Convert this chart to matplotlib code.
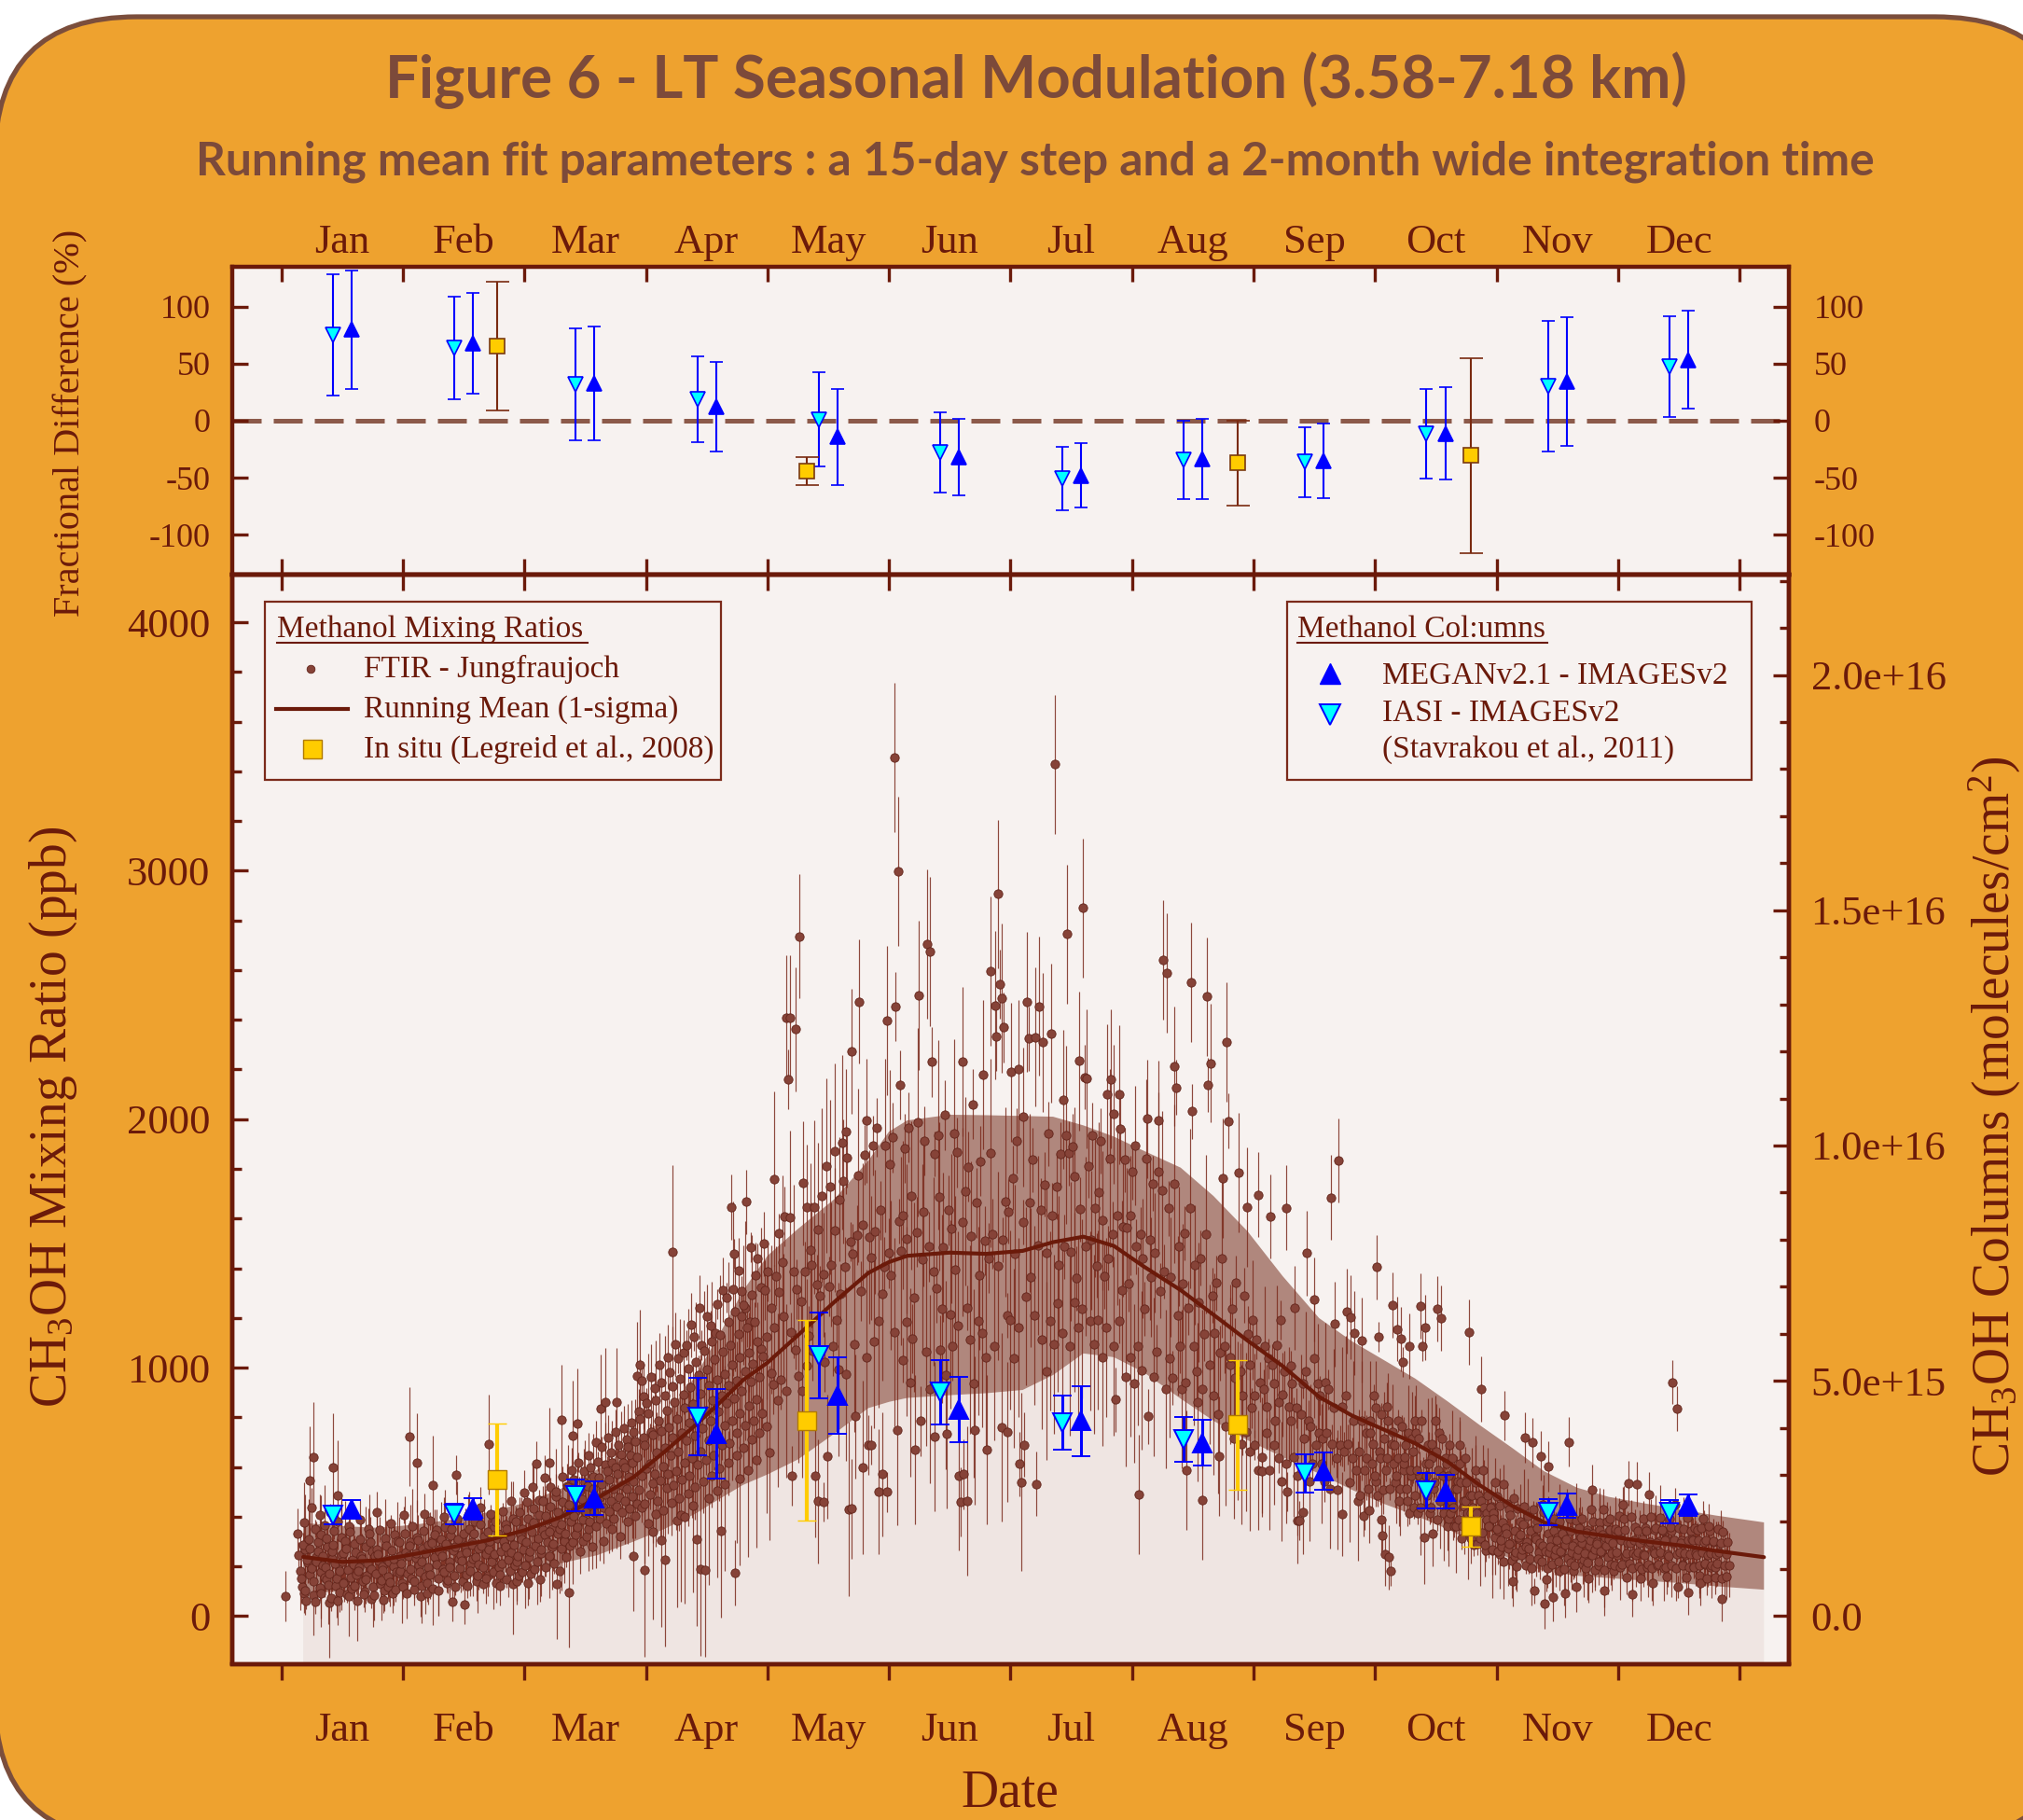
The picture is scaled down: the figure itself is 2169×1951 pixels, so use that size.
import numpy as np
import matplotlib
matplotlib.use("Agg")
import matplotlib.pyplot as plt
from matplotlib.patches import FancyBboxPatch, Rectangle
from matplotlib.lines import Line2D
from matplotlib.transforms import IdentityTransform
from matplotlib.ticker import MultipleLocator

plt.rcParams['font.family'] = ['Liberation Serif', 'DejaVu Serif']
plt.rcParams['mathtext.fontset'] = 'custom'
plt.rcParams['mathtext.rm'] = 'Liberation Serif'
plt.rcParams['mathtext.it'] = 'Liberation Serif:italic'
plt.rcParams['mathtext.bf'] = 'Liberation Serif:bold'
plt.rcParams['axes.unicode_minus'] = False

# ============================ DATA ============================
months = ['Jan', 'Feb', 'Mar', 'Apr', 'May', 'Jun',
          'Jul', 'Aug', 'Sep', 'Oct', 'Nov', 'Dec']

# ---- top panel: fractional difference (%) of monthly means ----
frac_iasi = [75.0, 63.8, 31.8, 18.7, 1.0, -27.8, -50.7, -34.4, -36.2, -11.4, 30.2, 47.4]
frac_iasi_err = [53.0, 44.9, 48.9, 37.6, 41.0, 35.1, 28.0, 34.4, 30.7, 39.2, 57.2, 44.0]
frac_megan = [79.7, 67.8, 32.5, 12.2, -14.4, -31.8, -48.1, -33.5, -35.3, -11.4, 34.4, 53.4]
frac_megan_err = [51.9, 44.2, 49.6, 39.5, 42.0, 33.6, 28.0, 35.3, 32.4, 40.3, 56.3, 42.8]

insitu_doy = [55, 132.5, 240.3, 298.6]
frac_insitu = [65.5, -44.2, -37.1, -30.6]
frac_insitu_err = [56.4, 12.2, 37.1, 85.4]

# ---- bottom panel: in situ mixing ratios (ppb) ----
insitu_ppb = [549, 788, 770, 361]
insitu_ppb_err = [226, 403, 261, 81]

# ---- bottom panel: model columns (1e15 molecules/cm2) ----
col_iasi = [2.146, 2.167, 2.568, 4.239, 5.537, 4.756, 4.108, 3.760, 3.037, 2.663, 2.209, 2.215]
col_iasi_err = [0.200, 0.221, 0.332, 0.817, 0.920, 0.683, 0.580, 0.477, 0.409, 0.380, 0.272, 0.245]
col_megan = [2.273, 2.283, 2.507, 3.878, 4.688, 4.382, 4.145, 3.681, 3.082, 2.639, 2.349, 2.357]
col_megan_err = [0.185, 0.227, 0.361, 0.957, 0.817, 0.691, 0.749, 0.490, 0.403, 0.356, 0.261, 0.221]

# ---- running mean and 1-sigma envelope (month position, ppb) ----
band_month = [0.18, 0.5, 0.8, 1.1, 1.4, 1.7, 2.0, 2.3, 2.6, 2.9, 3.15, 3.4, 3.6, 3.8, 4.0,
              4.25, 4.55, 4.83, 5.0, 5.15, 5.5, 5.8, 6.1, 6.35, 6.6, 6.85, 7.1, 7.4, 7.67,
              7.95, 8.24, 8.54, 8.81, 9.07, 9.33, 9.6, 9.86, 10.13, 10.39, 10.66, 10.92,
              11.2, 11.5, 11.8, 12.2]
run_mean = [238, 218, 224, 250, 277, 305, 345, 398, 475, 560, 660, 765, 855, 950, 1020,
            1130, 1264, 1381, 1425, 1450, 1463, 1458, 1470, 1505, 1527, 1490, 1406, 1312, 1213,
            1109, 1006, 882, 807, 751, 695, 620, 527, 443, 377, 340, 321,
            302, 285, 263, 237]
run_upper = [375, 362, 355, 368, 388, 418, 455, 512, 590, 690, 800, 960, 1130, 1310, 1450,
             1558, 1678, 1833, 1950, 1995, 2018, 2016, 2013, 2010, 1975, 1930, 1872, 1805, 1691,
             1549, 1368, 1199, 1106, 1031, 956, 863, 769, 676, 583, 517, 480,
             455, 430, 405, 377]
run_lower = [90, 100, 113, 128, 145, 165, 188, 212, 245, 300, 350, 410, 470, 528, 570,
             630, 734, 837, 862, 878, 889, 897, 910, 970, 1057, 1042, 980, 875, 786,
             708, 640, 573, 508, 452, 405, 349, 284, 228, 181, 162, 153,
             143, 133, 120, 106]

# ---- FTIR Jungfraujoch individual mixing ratios: day-of-year -> ppb values ----
ftir_jan = {
    2: [80],
    6: [332, 247, 183, 118, 92, 268], 7: [152, 287, 378, 63, 214, 545],
    8: [104, 228, 311, 168, 436, 640], 9: [273, 192, 84, 352, 238],
    10: [139, 58, 221, 297, 408, 176], 11: [262, 113, 327, 203, 157],
    12: [91, 243, 366, 148, 281, 53], 13: [198, 314, 127, 417, 232, 598],
    14: [171, 72, 259, 343, 121, 487], 15: [288, 213, 152, 379, 97, 244],
    16: [62, 182, 318, 253, 137], 17: [219, 133, 302, 88, 361],
    18: [271, 187, 79, 154, 228], 19: [338, 112, 209, 291, 168],
    20: [123, 258, 61, 197, 388], 21: [181, 309, 243, 141, 98],
    22: [232, 87, 279, 163, 352], 23: [149, 212, 331, 68, 262],
    24: [298, 188, 117, 241, 419], 25: [83, 172, 268, 223, 129],
    26: [251, 348, 143, 199, 102], 27: [187, 64, 312, 228, 158],
    28: [283, 119, 218, 372, 93], 29: [138, 263, 201, 328, 177],
    30: [229, 108, 301, 173, 243], 31: [298, 182, 133, 407],
}
ftir_feb = {
    32: [212, 118, 332, 257, 171, 722], 33: [91, 243, 298, 152],
    34: [283, 188, 362, 108, 233, 617], 35: [142, 252, 318, 203, 79],
    36: [307, 178, 123, 272, 412], 37: [218, 342, 158, 92, 288],
    38: [253, 131, 197, 383, 302, 527], 39: [168, 293, 112, 238, 348],
    40: [328, 208, 153, 268], 41: [103, 262, 308, 191, 398],
    42: [241, 179, 358, 132, 281], 43: [292, 143, 221, 323, 58],
    44: [198, 352, 263, 118, 569], 45: [162, 278, 392, 229, 311],
    46: [309, 192, 247, 139, 48], 47: [223, 331, 282, 168, 408],
    48: [258, 122, 349, 212, 297], 49: [181, 288, 232, 381, 142],
    50: [333, 238, 163, 272, 438], 51: [208, 368, 292, 128],
    52: [282, 197, 322, 248, 161, 691], 53: [152, 338, 268, 412, 231],
    54: [302, 221, 178, 358, 133], 55: [248, 382, 312, 198, 122],
    56: [332, 168, 262, 421, 288], 57: [211, 302, 371, 148, 252],
    58: [278, 352, 228, 181, 462, 128], 59: [322, 258, 392, 203, 142],
}
ftir_mar = {
    60: [288, 382, 218, 162, 331], 61: [242, 418, 308, 178, 498],
    62: [352, 268, 203, 458, 132], 63: [298, 392, 238, 172, 521],
    64: [262, 338, 432, 188, 612], 65: [378, 282, 218, 468, 148],
    66: [312, 408, 252, 348, 558], 67: [268, 462, 328, 198, 388, 617],
    68: [402, 298, 242, 518, 352], 69: [338, 442, 278, 212, 482, 128],
    70: [292, 378, 502, 332, 182, 790], 71: [418, 352, 272, 562, 308],
    72: [368, 458, 302, 238, 522, 94], 73: [332, 412, 518, 282, 588, 727],
    74: [448, 382, 298, 548, 422, 775], 75: [402, 328, 478, 618, 262],
    76: [358, 502, 432, 302, 582], 77: [472, 388, 538, 322, 648],
    78: [418, 522, 352, 598, 278], 79: [382, 468, 562, 442, 698],
    80: [512, 418, 362, 622, 478, 834], 81: [458, 558, 392, 682, 302, 860],
    82: [532, 438, 608, 372, 718], 83: [488, 582, 422, 658, 352],
    84: [548, 462, 618, 392, 742, 860], 85: [512, 598, 442, 688, 322],
    86: [572, 478, 652, 418, 758], 87: [528, 618, 462, 712, 382],
    88: [598, 512, 682, 432, 778, 240], 89: [562, 648, 482, 742, 402, 965],
    90: [618, 542, 702, 452, 822, 1013, 948],
}
ftir_apr = {
    91: [641, 507, 793, 436, 884, 185], 92: [563, 719, 451, 857, 372],
    93: [688, 596, 817, 489, 963, 338], 94: [614, 741, 533, 916, 411],
    95: [729, 571, 869, 463, 1011, 306], 96: [659, 788, 547, 942, 427, 227],
    97: [744, 603, 887, 514, 1043], 98: [677, 826, 571, 981, 456, 1464],
    99: [761, 648, 924, 527, 1093, 384], 100: [718, 861, 585, 1036, 474, 407],
    101: [793, 662, 957, 551, 1060, 399], 102: [736, 893, 619, 1089, 492],
    103: [837, 709, 997, 566, 1172, 446], 104: [779, 923, 636, 1126, 518, 311],
    105: [852, 727, 1024, 609, 1241, 190], 106: [808, 969, 661, 1092, 543, 185],
    107: [894, 757, 1067, 627, 1206, 476], 108: [826, 993, 708, 1171, 566],
    109: [927, 786, 1104, 646, 1140, 504], 110: [868, 1033, 727, 1256, 593, 343],
    111: [951, 824, 1131, 688, 1313, 531], 112: [887, 1063, 769, 1282, 616],
    113: [973, 858, 1183, 697, 1646, 1317], 114: [928, 1091, 786, 1460, 174, 646],
    115: [1013, 876, 1224, 737, 1391, 553, 1207], 116: [946, 1137, 817, 1309, 679, 1239],
    117: [1043, 906, 1253, 768, 1667, 587, 1186], 118: [987, 1162, 846, 1485, 711],
    119: [1061, 943, 1294, 787, 1373, 627], 120: [1017, 1184, 873, 1441, 738, 1077],
    121: [1104, 963, 1323, 816, 1498],
}
ftir_may = {
    122: [1047, 1311, 763], 123: [1124, 1387, 657, 976],
    124: [1241, 933, 1760], 125: [1163, 1368, 869, 1541],
    126: [1306, 951, 1423], 127: [1208, 1608, 907],
    128: [2409, 2162, 1605, 1143], 129: [2410, 566, 1386, 1071],
    130: [2363, 1314, 966], 131: [2736, 1268, 906],
    132: [1743, 1388, 1007], 133: [1647, 1127, 1473],
    134: [1413, 1067, 1646], 135: [566, 1334, 1557],
    136: [462, 1288, 1693, 459], 137: [1374, 1023, 1813],
    138: [643, 1327, 1727], 139: [1414, 1087, 1873],
    140: [1553, 1193, 993], 141: [1678, 1297, 1907],
    142: [1750, 1407, 973], 143: [1950, 1846, 431, 1507, 432],
    144: [2273, 1457, 1093], 145: [804, 1533, 1773],
    146: [2474, 1307, 599], 147: [1573, 1857, 1043],
    148: [1994, 690, 1527, 688], 149: [1443, 1893, 1107],
    150: [1547, 1967, 1187], 151: [501, 1633, 1297],
    152: [571, 1407, 1893, 500],
}
ftir_jun = {
    153: [2397, 1461, 1819], 154: [1371, 1926, 1143],
    155: [3455, 2454, 747, 1589], 156: [2997, 2138, 1469, 1031],
    157: [1614, 1883, 1186], 158: [1517, 1967, 941],
    159: [1693, 1117, 1283], 160: [669, 1546, 1988],
    161: [2498, 785, 1437], 162: [1627, 1913, 1063],
    163: [2705, 1487, 913], 164: [2674, 2231, 1387, 1861],
    165: [721, 1319, 1937], 166: [1689, 1071, 1236],
    167: [1486, 2017, 971], 168: [734, 1633, 1214],
    169: [1561, 1086, 1941], 170: [1393, 1866, 1169],
    171: [566, 459, 1587], 172: [2231, 571, 1709, 1239],
    173: [462, 1809, 1113], 174: [1529, 2061, 937],
    175: [747, 1663, 1187], 176: [1373, 1831, 1141],
    177: [2180, 1511, 1041], 178: [669, 1441, 1863],
    179: [2596, 1539, 1087], 180: [2459, 2335, 1409],
    181: [2906, 2544, 760, 1513], 182: [2487, 2369, 1667, 1211],
}
ftir_jul = {
    183: [741, 1629, 1193], 184: [2190, 1763, 1037],
    185: [1457, 1913, 1163], 186: [2200, 612, 540, 1587],
    187: [2009, 690, 1287], 188: [2472, 2325, 1663],
    189: [1363, 1837, 1211], 190: [2330, 532, 1493],
    191: [2454, 1633, 1113], 192: [2309, 1737, 987],
    193: [1463, 1941, 1187], 194: [2345, 1613, 1093],
    195: [3429, 1729, 1261], 196: [1413, 1859, 1141],
    197: [2079, 1487, 1937], 198: [2746, 1863, 1087],
    199: [1467, 1891, 1263], 200: [1769, 1359, 1163],
    201: [2234, 1637, 1237], 202: [2850, 2169, 1487],
    203: [2164, 1813, 1187], 204: [1513, 1937, 1093],
    205: [1643, 1411, 1191], 206: [1707, 1913, 1043],
    207: [1593, 1367, 1163], 208: [2102, 1441, 1843],
    209: [2161, 1537, 1087], 210: [2020, 871, 1613, 1187],
    211: [2100, 1962, 1313], 212: [1567, 1837, 963],
}
ftir_aug = {
    213: [1563, 1337, 1041], 214: [1611, 1787, 937],
    215: [1895, 1487, 1087], 216: [488, 1537, 989],
    217: [1441, 1237, 1841], 218: [2001, 804, 1513],
    219: [1363, 1741, 963], 220: [1463, 1063, 1789],
    221: [1996, 1309, 1713], 222: [2640, 1387, 913],
    223: [2588, 1641, 1037], 224: [1363, 959, 1741],
    225: [2213, 2128, 1209], 226: [1487, 1087, 913],
    227: [1337, 1541, 941], 228: [586, 1241, 1641],
    229: [2552, 2032, 1087], 230: [1413, 987, 861],
    231: [1263, 1441, 913], 232: [467, 1137, 1537],
    233: [2493, 2138, 1013], 234: [2226, 1291, 887],
    235: [1141, 1341, 813], 236: [643, 1059, 1441],
    237: [1761, 1087, 763], 238: [2312, 1993, 1013],
    239: [1041, 1237, 713], 240: [959, 1341, 787],
    241: [1786, 987, 691], 242: [887, 1291, 741],
    243: [1647, 1137, 663],
}
ftir_sep = {
    244: [1013, 837, 1191, 687], 245: [887, 1113, 587],
    246: [1696, 941, 641], 247: [584, 913, 1087, 737],
    248: [841, 1037, 587], 249: [1608, 1013, 687],
    250: [937, 787, 1091, 637], 251: [863, 1191, 541],
    252: [891, 987, 613], 253: [1644, 501, 841, 1009],
    254: [787, 937, 641], 255: [1240, 837, 563],
    256: [383, 385, 813, 937], 257: [420, 713, 987],
    258: [1461, 787, 541], 259: [763, 613, 1037],
    260: [1274, 687, 937], 261: [737, 887, 613],
    262: [713, 541, 941], 263: [737, 913, 513],
    264: [1685, 691, 837], 265: [1175, 637, 509],
    266: [1834, 687, 841], 267: [411, 663, 887],
    268: [1227, 691, 537], 269: [1203, 637, 787],
    270: [1140, 587, 463], 271: [663, 487, 787],
    272: [1110, 402, 587, 737], 273: [637, 513, 787],
}
ftir_oct = {
    274: [424, 737, 613, 887, 541], 275: [691, 563, 837, 487, 663],
    276: [1405, 1124, 637, 813, 509], 277: [387, 325, 713, 587, 841],
    278: [250, 637, 787, 513, 691], 279: [237, 181, 741, 613, 537],
    280: [1252, 687, 563, 787, 463], 281: [1156, 637, 513, 763, 587],
    282: [1115, 1022, 613, 687, 463], 283: [641, 513, 737, 413, 563],
    284: [1087, 587, 713, 437, 787], 285: [663, 487, 737, 413, 563],
    286: [587, 713, 437, 787, 541], 287: [1248, 1087, 318, 613, 487],
    288: [1162, 563, 687, 413, 637], 289: [613, 437, 691, 513, 787],
    290: [331, 537, 663, 387, 737], 291: [1237, 587, 463, 713, 487],
    292: [1199, 563, 413, 637, 363], 293: [487, 613, 391, 687, 463],
    294: [563, 413, 637, 363, 513], 295: [437, 587, 363, 541, 687],
    296: [513, 387, 613, 313, 463], 297: [537, 363, 441, 637, 413],
    298: [463, 537, 337, 487, 313], 299: [1143, 413, 487, 287, 587],
    300: [437, 363, 537, 291, 413], 301: [413, 487, 313, 463, 587],
    302: [914, 337, 437, 263, 413], 303: [288, 387, 487, 363, 441],
    304: [363, 437, 263, 413, 537],
}
ftir_nov = {
    305: [268, 392, 317, 481, 344, 250], 306: [351, 259, 446, 281, 529],
    307: [306, 378, 219, 356, 452], 308: [807, 333, 271, 428, 294],
    309: [289, 407, 224, 476, 241], 310: [140, 342, 257, 433, 309],
    311: [200, 318, 381, 246, 369], 312: [329, 268, 442, 206, 297],
    313: [719, 281, 404, 232, 348], 314: [272, 343, 193, 428, 317],
    315: [699, 101, 308, 379, 256], 316: [354, 229, 296, 218, 447],
    317: [644, 283, 418, 261, 194], 318: [50, 149, 331, 258, 307],
    319: [602, 279, 209, 393, 247], 320: [78, 342, 268, 316, 182],
    321: [304, 221, 379, 256, 338], 322: [259, 331, 191, 288, 431],
    323: [93, 309, 233, 392, 217], 324: [701, 344, 258, 183, 296],
    325: [283, 206, 383, 244, 356], 326: [116, 267, 329, 293, 209],
    327: [318, 391, 228, 192, 347], 328: [254, 336, 217, 284, 429],
    329: [153, 307, 246, 381, 184], 330: [508, 331, 268, 297, 206, 376],
    331: [292, 219, 348, 257, 431], 332: [261, 329, 184, 318, 379],
    333: [101, 284, 238, 346, 207], 334: [309, 393, 254, 181, 338],
}
ftir_dec = {
    335: [296, 204, 352, 247, 404], 336: [257, 343, 196, 309, 448],
    337: [304, 208, 392, 243, 157], 338: [347, 252, 293, 211, 398],
    339: [536, 296, 193, 254, 358], 340: [88, 307, 246, 342, 202],
    341: [530, 257, 296, 188, 393], 342: [153, 308, 249, 353, 197],
    343: [246, 344, 207, 292, 401], 344: [489, 297, 193, 258, 347],
    345: [131, 252, 356, 204, 303], 346: [293, 207, 396, 249, 344],
    347: [256, 347, 193, 309, 158], 348: [307, 196, 248, 393, 342],
    349: [243, 357, 206, 296, 447], 350: [942, 304, 193, 251, 354],
    351: [835, 116, 258, 306, 207], 352: [296, 203, 349, 244, 397],
    353: [252, 157, 304, 197, 343], 354: [97, 249, 308, 202, 356],
    355: [304, 196, 253, 347, 161], 356: [247, 306, 204, 353, 393],
    357: [131, 256, 297, 208, 153], 358: [213, 304, 247, 344, 196],
    359: [362, 253, 204, 297, 157], 360: [303, 196, 249, 352],
    361: [213, 256, 296, 152], 362: [69, 340, 204, 248],
    363: [159, 297, 206],
}
# typical 1-sigma error (ppb) of the k-th listed value of a day, per month
ftir_err_typ = [
    [100, 50, 160, 35, 80, 220, 60],
    [100, 50, 150, 35, 80, 200, 60],
    [110, 60, 170, 40, 90, 220, 70],
    [160, 80, 240, 60, 130, 350, 100],
    [250, 120, 350, 80, 200, 300, 150],
    [300, 140, 380, 90, 220, 300, 170],
    [280, 130, 360, 90, 210, 280, 160],
    [240, 110, 320, 80, 180, 250, 140],
    [170, 80, 240, 60, 130, 200, 100],
    [130, 60, 190, 45, 100, 170, 80],
    [100, 50, 150, 35, 80, 140, 60],
    [90, 45, 130, 30, 70, 120, 55],
]

# ============================ STYLE / LAYOUT ============================
W, H, DPI = 2169, 1951, 100
C_AX = '#6B1A0A'
C_TITLE = '#7C4A3A'
C_ORANGE = '#EEA22F'
C_BG = '#F7F2F0'
C_LIGHT = '#EFE5E2'
C_BAND = '#B0877D'
C_DOT = '#864338'
C_DOT_E = '#62241A'
C_YEL = '#FFCC00'
DAYS_PER_MONTH = 365.0 / 12.0
DAY_SPREAD = 0.4             # samples of one day drawn spread across +-1 day
COL_PER_PPB = 0.00528        # right-axis scale (1e15 molec/cm2 per ppb)
XL = (-0.404, 12.405)
YL = (-192, 4192)


def doy_to_x(d):
    return (np.asarray(d, dtype=float) - 1.0) / DAYS_PER_MONTH


def ax_rect(l, t, r, b):
    return [l / W, 1 - b / H, (r - l) / W, (b - t) / H]


def fx(x):
    return x / W


def fy(y):
    return 1 - y / H


fig = plt.figure(figsize=(W / DPI, H / DPI), dpi=DPI)
fig.patch.set_facecolor('white')
frame = FancyBboxPatch((-5.5, -21), 2232.5, 1954,
                       boxstyle='round,pad=0,rounding_size=152',
                       transform=IdentityTransform(), facecolor=C_ORANGE,
                       edgecolor='#7B4E3C', lw=3.8, zorder=-10)
fig.add_artist(frame)

L, R = 249, 1918
ax_top = fig.add_axes(ax_rect(L, 285.7, R, 616))
ax = fig.add_axes(ax_rect(L, 616, R, 1783.5))

for a in (ax_top, ax):
    a.set_facecolor(C_BG)
    for s in a.spines.values():
        s.set_color(C_AX)
        s.set_linewidth(3.2)
    a.set_xlim(*XL)

# ---------------- top panel ----------------
ax_top.set_ylim(-135, 135)
ax_top.axhline(0, color='#8C5A4A', lw=3.6, ls=(0, (6.2, 2.6)), zorder=1)
xi = np.arange(12) + 0.5 - 0.077
xm = np.arange(12) + 0.5 + 0.077
ax_top.errorbar(xi, frac_iasi, yerr=frac_iasi_err, fmt='v', ms=11.5, mfc='#00FFFF',
                mec='#0000FF', mew=1.2, ecolor='#0000FF', elinewidth=1.5, capsize=5,
                capthick=1.5, zorder=3)
ax_top.errorbar(xm, frac_megan, yerr=frac_megan_err, fmt='^', ms=11.5, mfc='#0000FF',
                mec='#0000FF', mew=1.2, ecolor='#0000FF', elinewidth=1.5, capsize=5,
                capthick=1.5, zorder=3)
ax_top.errorbar(doy_to_x(insitu_doy), frac_insitu, yerr=frac_insitu_err, fmt='s', ms=11,
                mfc=C_YEL, mec='#7A3A10', mew=1.2, ecolor='#7A2A10', elinewidth=1.5,
                capsize=9, capthick=1.5, zorder=3)

ax_top.set_xticks(range(13))
ax_top.set_xticklabels([''] * 13)
ax_top.set_xticks(np.arange(12) + 0.5, minor=True)
ax_top.set_xticklabels(months, minor=True)
ax_top.tick_params(axis='x', which='both', bottom=False, top=True,
                   labelbottom=False, labeltop=True)
ax_top.tick_params(axis='x', which='major', direction='in', length=11.5, width=2.4,
                   color=C_AX)
ax_top.tick_params(axis='x', which='minor', length=0, pad=4, labelsize=32,
                   labelcolor=C_AX)
ax_top.set_yticks([-100, -50, 0, 50, 100])
ax_top.tick_params(axis='y', which='major', left=True, right=False, direction='in',
                   length=12.5, width=2.4, color=C_AX, labelsize=26,
                   labelcolor=C_AX, pad=16.5)
ax_top_r = ax_top.twinx()
ax_top_r.set_ylim(-135, 135)
ax_top_r.set_yticks([-100, -50, 0, 50, 100])
ax_top_r.tick_params(axis='y', which='major', direction='in', length=12.5, width=2.4,
                     color=C_AX, labelsize=26, labelcolor=C_AX, pad=19)
for s in ax_top_r.spines.values():
    s.set_visible(False)

# ---------------- bottom panel ----------------
ax.set_ylim(*YL)
xpoly = np.r_[band_month, band_month[::-1]]
ax.fill(np.r_[band_month, band_month[-1], band_month[0]],
        np.r_[run_lower, -1000, -1000], color=C_LIGHT, lw=0, zorder=0.5)
ax.fill(xpoly, np.r_[run_upper, run_lower[::-1]], color=C_BAND, lw=0, zorder=1)

xs, ys, es = [], [], []
for mi, d in enumerate([ftir_jan, ftir_feb, ftir_mar, ftir_apr, ftir_may, ftir_jun,
                        ftir_jul, ftir_aug, ftir_sep, ftir_oct, ftir_nov, ftir_dec]):
    errs = ftir_err_typ[mi]
    for doy, vals in d.items():
        n = len(vals)
        for k, v in enumerate(vals):
            xs.append(doy + (k - (n - 1) / 2.0) * DAY_SPREAD)
            ys.append(v)
            es.append(errs[k])
xs = doy_to_x(xs)
ax.errorbar(xs, ys, yerr=es, fmt='none', ecolor='#7B2A1C', elinewidth=0.85,
            alpha=0.85, capsize=0, zorder=2)
ax.plot(xs, ys, 'o', ms=6.7, mfc=C_DOT, mec=C_DOT_E, mew=0.6, ls='none', zorder=3)
ax.plot(band_month, run_mean, color=C_AX, lw=3.0, zorder=4, solid_capstyle='round')
ax.errorbar(doy_to_x(insitu_doy), insitu_ppb, yerr=insitu_ppb_err, fmt='s', ms=14,
            mfc=C_YEL, mec='#B07A00', mew=1.0, ecolor=C_YEL, elinewidth=3.0,
            capsize=7.5, capthick=3.0, zorder=5)

ax.set_xticks(range(13))
ax.set_xticklabels([''] * 13)
ax.set_xticks(np.arange(12) + 0.5, minor=True)
ax.set_xticklabels(months, minor=True)
ax.tick_params(axis='x', which='both', top=False, bottom=True)
ax.tick_params(axis='x', which='major', direction='out', length=12, width=2.4, color=C_AX)
ax.tick_params(axis='x', which='minor', length=0, pad=37, labelsize=32, labelcolor=C_AX)
ax.set_yticks(range(0, 4001, 1000))
ax.yaxis.set_minor_locator(MultipleLocator(200))
ax.tick_params(axis='y', which='both', right=False, direction='in', color=C_AX, width=2.4)
ax.tick_params(axis='y', which='major', length=12, labelsize=32, labelcolor=C_AX, pad=17)
ax.tick_params(axis='y', which='minor', length=7)

secx = ax.secondary_xaxis('top')
secx.set_xticks(range(13))
secx.tick_params(axis='x', direction='inout', length=24, width=2.4, color=C_AX,
                 labeltop=False)
secx.spines['top'].set_color(C_AX)
secx.spines['top'].set_linewidth(3.2)

ax2 = ax.twinx()
ax2.set_ylim(YL[0] * COL_PER_PPB, YL[1] * COL_PER_PPB)
ax2.set_yticks([0, 5, 10, 15, 20])
ax2.set_yticklabels(['0.0', '5.0e+15', '1.0e+16', '1.5e+16', '2.0e+16'])
ax2.yaxis.set_minor_locator(MultipleLocator(1))
ax2.tick_params(axis='y', which='both', direction='in', color=C_AX, width=2.4)
ax2.tick_params(axis='y', which='major', length=12, labelsize=32, labelcolor=C_AX, pad=17)
ax2.tick_params(axis='y', which='minor', length=7)
for s in ax2.spines.values():
    s.set_color(C_AX)
    s.set_linewidth(3.2)
ax2.errorbar(xi, col_iasi, yerr=col_iasi_err, fmt='v', ms=15, mfc='#00FFFF',
             mec='#0000FF', mew=1.4, ecolor='#0000FF', elinewidth=2.2, capsize=7.5,
             capthick=2.2, zorder=6)
ax2.errorbar(xm, col_megan, yerr=col_megan_err, fmt='^', ms=15, mfc='#0000FF',
             mec='#0000FF', mew=1.4, ecolor='#0000FF', elinewidth=2.2, capsize=7.5,
             capthick=2.2, zorder=6)

# ---------------- titles & axis labels ----------------
renderer = fig.canvas.get_renderer()


def fit_width(t, target):
    for _ in range(3):
        w = t.get_window_extent(renderer).width
        t.set_fontsize(t.get_fontsize() * target / w)


t1 = fig.text(fx(1111), fy(105), 'Figure 6 - LT Seasonal Modulation (3.58-7.18 km)',
              ha='center', va='baseline', fontfamily='Lato', fontweight='bold',
              color=C_TITLE, fontsize=46)
fit_width(t1, 1397)
t2 = fig.text(fx(1110), fy(187.5),
              'Running mean fit parameters : a 15-day step and a 2-month wide integration time',
              ha='center', va='baseline', fontfamily='Lato', fontweight='bold',
              color=C_TITLE, fontsize=31)
fit_width(t2, 1800)

fig.text(fx(57), fy(1197), 'CH$_3$OH Mixing Ratio (ppb)', rotation=90, ha='center',
         va='center', fontsize=40, color=C_AX)
fig.text(fx(2139), fy(1197), 'CH$_3$OH Columns (molecules/cm$^2$)', rotation=90,
         ha='center', va='center', fontsize=40, color=C_AX)
fig.text(fx(76), fy(453), 'Fractional Difference (%)', rotation=90, ha='center',
         va='center', fontsize=29, color=C_AX)
fig.text(fx(1083), fy(1936), 'Date', ha='center', va='baseline', fontsize=40, color=C_AX)

# ---------------- legends ----------------
LEG_FS = 24
for (x0, x1) in [(284, 773), (1380, 1877.6)]:
    fig.add_artist(Rectangle((fx(x0), fy(836)), fx(x1) - fx(x0), (836 - 645) / H,
                             transform=fig.transFigure, facecolor=C_BG,
                             edgecolor='#7B2A1A', lw=1.6, zorder=5))

fig.text(fx(297), fy(683.3), 'Methanol Mixing Ratios', fontsize=LEG_FS, color=C_AX,
         va='baseline', zorder=6)
fig.add_artist(Line2D([fx(297), fx(630)], [fy(688.5)] * 2, transform=fig.transFigure,
                      color=C_AX, lw=1.5, zorder=6))
fig.add_artist(Line2D([fx(333)], [fy(716.7)], transform=fig.transFigure, marker='o',
                      ms=6.2, mfc=C_DOT, mec=C_DOT_E, mew=0.6, ls='none', zorder=6))
fig.text(fx(390), fy(726), 'FTIR - Jungfraujoch', fontsize=LEG_FS, color=C_AX,
         va='baseline', zorder=6)
fig.add_artist(Line2D([fx(295.5), fx(373)], [fy(760)] * 2, transform=fig.transFigure,
                      color=C_AX, lw=3.0, zorder=6))
fig.text(fx(390), fy(768.3), 'Running Mean (1-sigma)', fontsize=LEG_FS, color=C_AX,
         va='baseline', zorder=6)
fig.add_artist(Line2D([fx(334.5)], [fy(803)], transform=fig.transFigure, marker='s',
                      ms=14, mfc=C_YEL, mec='#B07A00', mew=1.0, ls='none', zorder=6))
fig.text(fx(390), fy(811.7), 'In situ (Legreid et al., 2008)', fontsize=LEG_FS,
         color=C_AX, va='baseline', zorder=6)

fig.text(fx(1390.7), fy(683.3), 'Methanol Col:umns', fontsize=LEG_FS, color=C_AX,
         va='baseline', zorder=6)
fig.add_artist(Line2D([fx(1390.7), fx(1659)], [fy(688.5)] * 2, transform=fig.transFigure,
                      color=C_AX, lw=1.5, zorder=6))
fig.add_artist(Line2D([fx(1425.7)], [fy(721.7)], transform=fig.transFigure, marker='^',
                      ms=16, mfc='#0000FF', mec='#0000FF', ls='none', zorder=6))
fig.text(fx(1481.6), fy(732.7), 'MEGANv2.1 - IMAGESv2', fontsize=LEG_FS, color=C_AX,
         va='baseline', zorder=6)
fig.add_artist(Line2D([fx(1425.7)], [fy(765.5)], transform=fig.transFigure, marker='v',
                      ms=16, mfc='#00FFFF', mec='#0000FF', mew=1.4, ls='none', zorder=6))
fig.text(fx(1481.6), fy(772.7), 'IASI - IMAGESv2', fontsize=LEG_FS, color=C_AX,
         va='baseline', zorder=6)
fig.text(fx(1481.6), fy(812), '(Stavrakou et al., 2011)', fontsize=LEG_FS, color=C_AX,
         va='baseline', zorder=6)

fig.savefig('out.png', dpi=DPI, facecolor='white')
